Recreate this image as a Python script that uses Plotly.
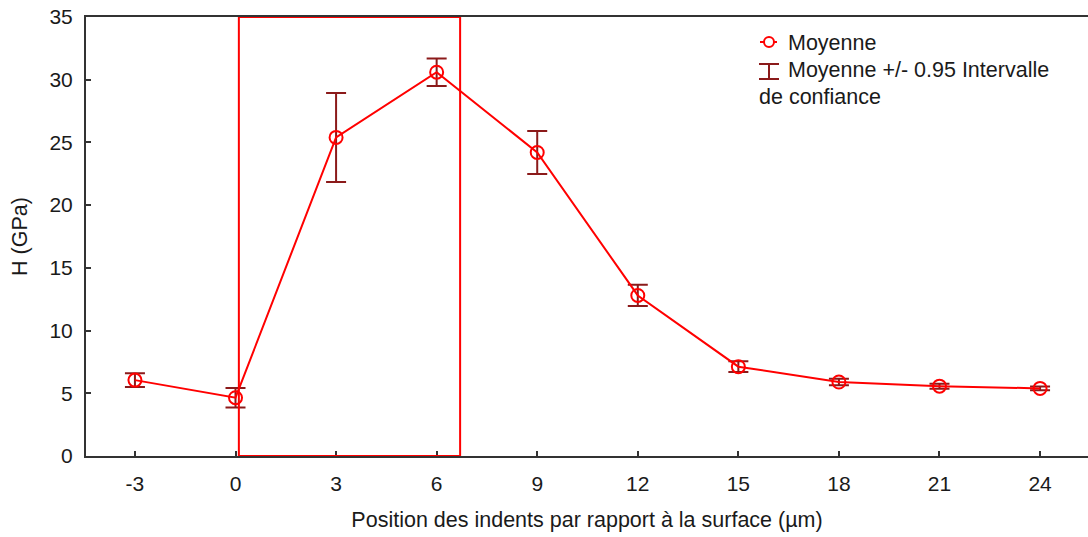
import plotly.graph_objects as go

positions = [-3, 0, 3, 6, 9, 12, 15, 18, 21, 24]
h_mean = [6.05, 4.65, 25.4, 30.6, 24.2, 12.8, 7.12, 5.9, 5.57, 5.39]
h_ci = [0.55, 0.78, 3.55, 1.1, 1.72, 0.85, 0.43, 0.25, 0.2, 0.15]
tick_vals = [-3, 0, 3, 6, 9, 12, 15, 18, 21, 24]
tick_text = ["-3", "0", "3", "6", "9", "12", "15", "18", "21", "24"]
y_ticks = [0, 5, 10, 15, 20, 25, 30, 35]
zone_x = [0.1, 6.7]
zone_y = [0, 35]

FONT = "Liberation Sans, Arial, sans-serif"
RED = "#ff0000"
DARK = "#8b1a1a"
AX = "#333333"
TXT = "#1a1a1a"

OFF = 0  # page body margin removed via post_script
W, H = 1088 - OFF, 537 - OFF
L, R, T = 86 - OFF, 0, 17 - OFF
B = H - (456 - OFF)
pw, ph = W - L - R, H - T - B


def px(x):
    return (x - OFF - L) / pw


def py(y):
    return (H - B - (y - OFF)) / ph


fig = go.Figure()
fig.add_trace(go.Scatter(
    x=positions, y=h_mean,
    mode="lines+markers",
    line=dict(color=RED, width=2),
    marker=dict(symbol="circle-open", size=13, color=RED, line=dict(width=2, color=RED)),
    error_y=dict(type="data", array=h_ci, visible=True, color=DARK, thickness=2, width=10),
    showlegend=False,
))

shapes = [
    dict(type="rect", xref="x", yref="y", x0=zone_x[0], x1=zone_x[1], y0=zone_y[0], y1=zone_y[1],
         line=dict(color=RED, width=2), layer="above"),
    # legend symbols
    dict(type="line", xref="paper", yref="paper", x0=px(760), x1=px(777), y0=py(42), y1=py(42),
         line=dict(color=RED, width=2)),
    dict(type="circle", xref="paper", yref="paper", x0=px(764), x1=px(774), y0=py(37), y1=py(47),
         line=dict(color=RED, width=2), fillcolor="white"),
    dict(type="line", xref="paper", yref="paper", x0=px(769), x1=px(769), y0=py(64), y1=py(79),
         line=dict(color=DARK, width=2)),
    dict(type="line", xref="paper", yref="paper", x0=px(759), x1=px(779), y0=py(64), y1=py(64),
         line=dict(color=DARK, width=2)),
    dict(type="line", xref="paper", yref="paper", x0=px(759), x1=px(779), y0=py(79), y1=py(79),
         line=dict(color=DARK, width=2)),
]

LF = 21.5
annotations = [
    dict(text="Moyenne", xref="paper", yref="paper", x=px(786), y=py(43), xanchor="left", yanchor="middle",
         showarrow=False, font=dict(family=FONT, size=LF, color=TXT)),
    dict(text="Moyenne +/- 0.95 Intervalle", xref="paper", yref="paper", x=px(786), y=py(70),
         xanchor="left", yanchor="middle", showarrow=False, font=dict(family=FONT, size=LF, color=TXT)),
    dict(text="de confiance", xref="paper", yref="paper", x=px(757), y=py(97),
         xanchor="left", yanchor="middle", showarrow=False, font=dict(family=FONT, size=LF, color=TXT)),
]

fig.update_layout(
    width=W, height=H,
    margin=dict(l=L, r=R, t=T, b=B, autoexpand=False),
    plot_bgcolor="white", paper_bgcolor="white",
    font=dict(family=FONT, size=21, color=TXT),
    shapes=shapes, annotations=annotations,
    xaxis=dict(range=[-4.46, 25.43], tickvals=tick_vals, ticktext=tick_text, ticks="inside", ticklen=5,
               tickwidth=1.5, tickcolor=AX, showline=True, linecolor=AX, linewidth=2, mirror=True,
               showgrid=False, zeroline=False, ticklabelstandoff=8, ticklabeloverflow="allow",
               automargin=False,
               title=dict(text="Position des indents par rapport à la surface (µm)", standoff=18,
                          font=dict(size=21.5)),
               tickfont=dict(size=21)),
    yaxis=dict(range=[0, 35], tickvals=y_ticks, ticks="inside", ticklen=5, tickwidth=1.5,
               tickcolor=AX, showline=True, linecolor=AX, linewidth=2,
               showgrid=False, zeroline=False, ticklabelstandoff=7, ticklabeloverflow="allow",
               automargin=False,
               title=dict(text="H (GPa)", standoff=16, font=dict(size=21.5)),
               tickfont=dict(size=21)),
)

fig.write_html("out.html", config={"displayModeBar": False},
               post_script="document.body.style.margin='0';document.body.style.overflow='hidden';")
